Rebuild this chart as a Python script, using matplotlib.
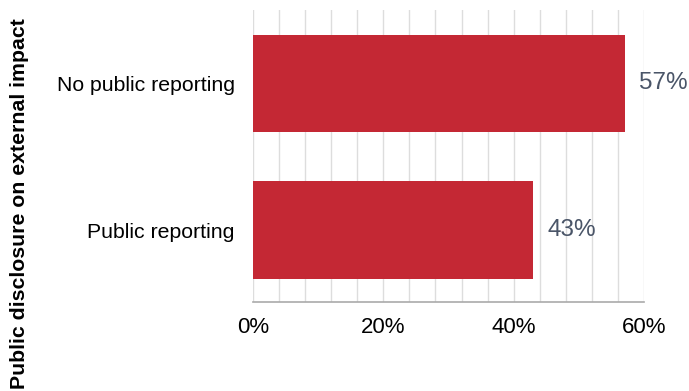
import matplotlib
matplotlib.use("Agg")
import matplotlib.pyplot as plt
from matplotlib.ticker import MultipleLocator, FuncFormatter

plt.rcParams['font.family'] = ['Liberation Sans', 'DejaVu Sans']

categories = ["Public reporting", "No public reporting"]
shares = [43, 57]
value_labels = ["43%", "57%"]
axis_title = "Public disclosure on external impact"

fig = plt.figure(figsize=(6.89, 3.91), dpi=100)
ax = fig.add_axes([0.367, 0.228, 0.568, 0.746])

ax.barh(range(len(categories)), shares, height=0.667, color="#C42834", zorder=3)

for i, (v, lab) in enumerate(zip(shares, value_labels)):
    ax.text(v + 2.2, i, lab, va="center", ha="left", fontsize=17.5, color="#4A5568")

ax.set_xlim(0, 60)
ax.set_ylim(-0.49, 1.5)
ax.set_yticks(range(len(categories)))
ax.set_yticklabels(categories, fontsize=15.3)
ax.xaxis.set_major_locator(MultipleLocator(20))
ax.xaxis.set_minor_locator(MultipleLocator(4))
ax.xaxis.set_major_formatter(FuncFormatter(lambda x, p: f"{x:.0f}%"))
ax.tick_params(axis="x", labelsize=16, length=0, pad=11, which="both")
ax.tick_params(axis="y", length=0, pad=13)
ax.grid(axis="x", which="both", color="#DDDDDD", linewidth=1, zorder=0)
for s in ["top", "right", "left"]:
    ax.spines[s].set_visible(False)
ax.spines["bottom"].set_color("#AAAAAA")
ax.spines["bottom"].set_linewidth(1.2)

fig.text(0.029, 0.48, axis_title, rotation=90, va="center", ha="center",
         fontsize=15.3, fontweight="bold")

fig.savefig("out.png", dpi=100)
